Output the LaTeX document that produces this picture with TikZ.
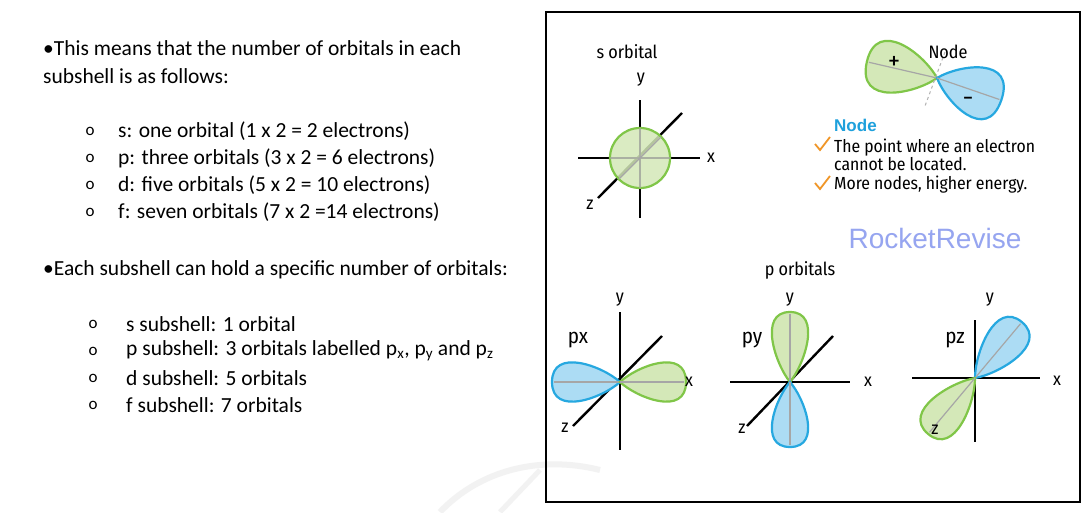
\documentclass[tikz,border=0pt]{standalone}
\usepackage{fontspec}
\setmainfont{Carlito}
\newfontfamily\hand{Fira Sans Condensed}
\newfontfamily\arialf{Liberation Sans}
\definecolor{gfill}{RGB}{212,232,184}
\definecolor{gline}{RGB}{128,198,72}
\definecolor{bfill}{RGB}{172,220,244}
\definecolor{bline}{RGB}{38,168,224}
\definecolor{nodeblue}{RGB}{30,160,220}
\definecolor{rr}{RGB}{150,165,240}
\definecolor{chk}{RGB}{240,150,40}
\newcommand\lobe[6]{% x y angle length halfwidth color
  \begin{scope}[shift={(#1,#2)},rotate=#3]
  \draw[line width=2.2pt,draw=#6line,fill=#6fill] (0,0) .. controls (0.25*#4,0.6*#5) and (#4,1.35*#5) .. (#4,0) .. controls (#4,-1.35*#5) and (0.25*#4,-0.6*#5) .. cycle;
  \draw[gray!70,line width=1.2pt] (0,0) -- (0.97*#4,0);
  \end{scope}}
\tikzset{ax/.style={line width=2.4pt,black},lab/.style={font=\hand\fontsize{18}{19}\selectfont},
 plab/.style={font=\hand\fontsize{21}{22}\selectfont},
 txt/.style={anchor=west,font=\fontsize{21.5}{23}\selectfont,inner sep=0pt},
 bul/.style={anchor=center,font=\fontsize{17}{18}\selectfont,inner sep=0pt}}
\begin{document}
\begin{tikzpicture}[x=1pt,y=-1pt]
\useasboundingbox (0,0) rectangle (1090,512);
\fill[white] (0,0) rectangle (1090,512);
% watermark
\draw[gray!10,line width=6pt] (440,512) .. controls (480,470) and (540,455) .. (600,470);
\draw[gray!10,line width=5pt] (500,512) -- (540,470);
% left text
\node[txt] (t1) at (43,48) {•This means that the number of orbitals in each};
\node[txt] (t2) at (43,76) {subshell is as follows:};
\foreach \yy/\tt [count=\i] in {131/{s: one orbital (1 x 2 = 2 electrons)},158/{p: three orbitals (3 x 2 = 6 electrons)},185/{d: five orbitals (5 x 2 = 10 electrons)},212/{f: seven orbitals (7 x 2 =14 electrons)}}{
 \node[bul] (ba\i) at (90,\yy) {o};
 \node[txt] (la\i) at (118,\yy) {\tt};}
\node[txt] (t3) at (43,270) {•Each subshell can hold a specific number of orbitals:};
\foreach \yy/\tt [count=\i] in {324/{s subshell: 1 orbital},351/{p subshell: 3 orbitals labelled p\textsubscript{x}, p\textsubscript{y} and p\textsubscript{z}},378/{d subshell: 5 orbitals},405/{f subshell: 7 orbitals}}{
 \node[bul] (bb\i) at (93,\yy) {o};
 \node[txt] (lb\i) at (126,\yy) {\tt};}
% box
\draw[line width=1.4pt] (546,12) rectangle (1080,502);
% s orbital
\node[lab] (sl) at (627,52) {s orbital};
\draw[ax] (640,100) -- (640,218);
\draw[ax] (578,158) -- (700,158);
\draw[ax] (598,198) -- (682,113);
\fill[gfill,opacity=0.85] (640,158) circle (30);
\draw[gline,line width=2.2pt] (640,158) circle (30);
\draw[gray!70,line width=1.2pt] (610,158) -- (670,158) (640,128) -- (640,188) (619,179) -- (661,137);
\node[lab] at (641,80) {y};
\node[lab] at (711,158) {x};
\node[lab] at (590,205) {z};
% node diagram
\lobe{937}{78}{167}{72}{34}{g}
\lobe{937}{78}{-19}{68}{34}{b}
\draw[gray!60,dashed,line width=1pt] (945,52) -- (925,106);
\node[font=\bfseries\fontsize{20}{20}\selectfont] at (894,62) {+};
\node[font=\bfseries\fontsize{20}{20}\selectfont] at (968,101) {−};
\node[lab] at (948,52) {Node};
\node[anchor=west,font=\arialf\bfseries\fontsize{17}{18}\selectfont,text=nodeblue,inner sep=0pt] at (834,125) {Node};
\node[anchor=west,font=\hand\fontsize{17.5}{15}\selectfont,align=left,inner sep=0pt] at (834,155) {The point where an electron\\cannot be located.};
\node[anchor=west,font=\hand\fontsize{17.5}{15}\selectfont,inner sep=0pt] at (834,185) {More nodes, higher energy.};
\draw[chk,line width=1.8pt] (815,144) -- (820,150) -- (830,137);
\draw[chk,line width=1.8pt] (815,183) -- (820,189) -- (830,176);
\node[font=\arialf\fontsize{28}{30}\selectfont,text=rr] at (935,238) {RocketRevise};
\node[lab] at (800,270) {p orbitals};
% px
\draw[ax] (620,312) -- (620,450);
\draw[ax] (573,426) -- (662,336);
\lobe{620}{382}{180}{68}{26}{b}
\lobe{620}{382}{0}{66}{26}{g}
\node[lab] at (620,300) {y};
\node[lab] at (689,382) {x};
\node[lab] at (565,428) {z};
\node[plab] at (578,340) {px};
% py
\draw[ax] (730,382) -- (850,382);
\draw[ax] (747,426) -- (833,336);
\lobe{790}{382}{90}{70}{24}{g}
\lobe{790}{382}{-90}{65}{24}{b}
\node[lab] at (790,300) {y};
\node[lab] at (868,382) {x};
\node[lab] at (742,429) {z};
\node[plab] at (752,340) {py};
% pz
\draw[ax] (912,378) -- (1040,378);
\draw[ax] (975,320) -- (975,442);
\lobe{975}{378}{50}{73}{26}{b}
\lobe{975}{378}{230}{73}{26}{g}
\node[lab] at (990,300) {y};
\node[lab] at (1057,381) {x};
\node[lab] at (935,430) {z};
\node[plab] at (955,340) {pz};
\end{tikzpicture}
\end{document}
